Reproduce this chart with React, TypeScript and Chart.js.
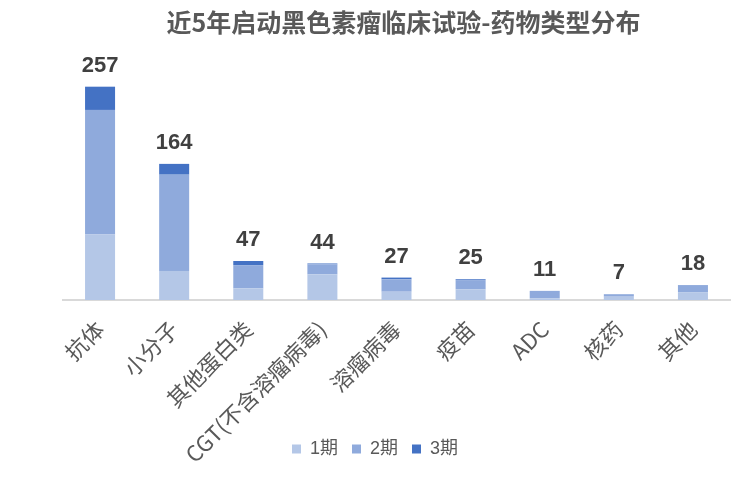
import { useEffect, useRef } from 'react';
import { Chart, registerables } from 'chart.js';

Chart.register(...registerables);

const categories = ['抗体', '小分子', '其他蛋白类', 'CGT(不含溶瘤病毒)', '溶瘤病毒', '疫苗', 'ADC', '核药', '其他'];
const phase1 = [79, 35, 14, 31, 10, 13, 2, 4, 9];
const phase2 = [150, 116, 28, 12, 15, 11, 9, 3, 9];
const phase3 = [28, 13, 5, 1, 2, 1, 0, 0, 0];
const seriesNames = ['1期', '2期', '3期'];
const yMax = 300;

const totals = categories.map((_, i) => phase1[i] + phase2[i] + phase3[i]);

// 堆叠柱顶部的合计数值
const totalLabels = {
  id: 'totalLabels',
  afterDatasetsDraw(chart: Chart) {
    const ctx = chart.ctx;
    const meta = chart.getDatasetMeta(0);
    const y = chart.scales.y;
    ctx.save();
    ctx.font = "bold 22px 'Liberation Sans', Arial, sans-serif";
    ctx.fillStyle = '#404040';
    ctx.textAlign = 'center';
    ctx.textBaseline = 'bottom';
    totals.forEach((t, i) => {
      const bar = meta.data[i];
      ctx.fillText(String(t), bar.x, y.getPixelForValue(t) - 10);
    });
    ctx.restore();
  }
};

// x轴标签可以延伸到图例区域（原图如此），标题稍向右
const layoutTweak = {
  id: 'layoutTweak',
  afterLayout(chart: Chart) {
    const x: any = chart.scales.x;
    x.bottom = chart.height;
    const tb: any = (chart as any).titleBlock;
    if (tb) {
      tb.left += 7;
      tb.right += 7;
    }
  }
};

export default function App() {
  const chartRef = useRef<HTMLCanvasElement>(null);
  const chartInstance = useRef<Chart | null>(null);

  useEffect(() => {
    document.body.style.margin = '0';
    if (!chartRef.current) return;
    if (chartInstance.current) chartInstance.current.destroy();
    const ctx = chartRef.current.getContext('2d');
    if (!ctx) return;

    chartInstance.current = new Chart(ctx, {
      type: 'bar',
      data: {
        labels: categories,
        datasets: [
          { label: seriesNames[0], data: phase1, backgroundColor: '#B4C7E7' },
          { label: seriesNames[1], data: phase2, backgroundColor: '#8FAADC' },
          { label: seriesNames[2], data: phase3, backgroundColor: '#4472C4' }
        ]
      },
      options: {
        responsive: true,
        maintainAspectRatio: false,
        animation: false,
        datasets: {
          bar: { categoryPercentage: 1, barPercentage: 0.405 }
        },
        layout: { padding: { left: 20, right: 20, top: 7, bottom: 10 } },
        plugins: {
          title: {
            display: true,
            text: '近5年启动黑色素瘤临床试验-药物类型分布',
            fullSize: false,
            color: '#595959',
            font: { size: 25, weight: 'bold', family: "'Noto Sans CJK SC', sans-serif" },
            padding: { top: 0, bottom: 14 }
          },
          legend: {
            position: 'bottom',
            labels: {
              boxWidth: 9,
              boxHeight: 9,
              padding: 14,
              color: '#595959',
              font: { size: 18, family: "'Liberation Sans', 'Noto Sans CJK SC', sans-serif" }
            }
          },
          tooltip: { enabled: false }
        },
        scales: {
          x: {
            stacked: true,
            grid: { display: false },
            border: { color: '#D9D9D9', width: 2 },
            ticks: {
              color: '#595959',
              minRotation: 45,
              maxRotation: 45,
              padding: 8,
              font: { size: 22, family: "'Noto Sans CJK SC', sans-serif" }
            },
            afterFit: (s: any) => { s.height = 126; }
          },
          y: {
            stacked: true,
            min: 0,
            max: yMax,
            grid: { display: false },
            border: { display: false },
            ticks: { display: false },
            afterFit: (s: any) => { s.width = 43; }
          }
        }
      },
      plugins: [totalLabels, layoutTweak]
    });

    return () => {
      if (chartInstance.current) {
        chartInstance.current.destroy();
        chartInstance.current = null;
      }
    };
  }, []);

  return (
    <div style={{ width: 750, height: 478, background: '#fff' }}>
      <canvas ref={chartRef} />
    </div>
  );
}
